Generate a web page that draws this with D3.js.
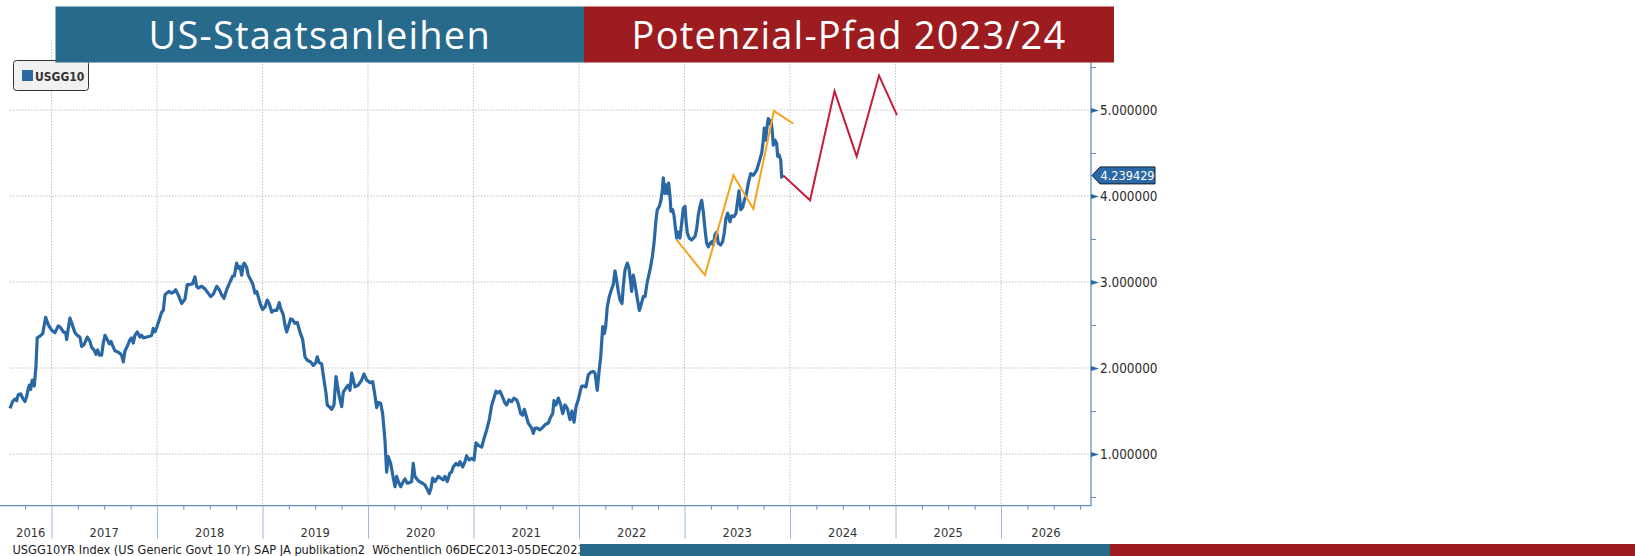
<!DOCTYPE html>
<html>
<head>
<meta charset="utf-8">
<script src="https://cdn.jsdelivr.net/npm/d3@7"></script>
<style>
    body { margin: 0; background: #fff; }
    #chart { width: 1635px; height: 556px; }
    .tick-font { font-family: "DejaVu Sans Condensed", "DejaVu Sans", sans-serif; font-stretch: condensed; }
</style>
</head>
<body>
<div id="chart"></div>
<script>
// titles / texts
const leftTitle = 'US-Staatsanleihen';
const rightTitle = 'Potenzial-Pfad 2023/24';
const legendLabel = 'USGG10';
const footnote = 'USGG10YR Index (US Generic Govt 10 Yr) SAP JA publikation2  Wöchentlich 06DEC2013-05DEC2023';
const lastValueLabel = '4.239429';
const lastValue = 4.239429;

// axis ticks
const yearLabels = [2016, 2017, 2018, 2019, 2020, 2021, 2022, 2023, 2024, 2025, 2026];
const yTicks = [1, 2, 3, 4, 5];
const yMinorTicks = [0.5, 1.5, 2.5, 3.5, 4.5, 5.5];

// USGG10 weekly (time as decimal year)
const usggTime = [
    2016.607, 2016.632, 2016.654, 2016.670, 2016.685, 2016.708, 2016.727, 2016.749, 2016.765, 2016.780,
    2016.790, 2016.803, 2016.818, 2016.837, 2016.853, 2016.865, 2016.891, 2016.917, 2016.945, 2016.970,
    2017.002, 2017.033, 2017.064, 2017.087, 2017.112, 2017.135, 2017.144, 2017.159, 2017.175, 2017.201,
    2017.223, 2017.245, 2017.270, 2017.286, 2017.308, 2017.339, 2017.365, 2017.381, 2017.403, 2017.422,
    2017.438, 2017.453, 2017.476, 2017.491, 2017.507, 2017.529, 2017.548, 2017.564, 2017.580, 2017.602,
    2017.624, 2017.649, 2017.665, 2017.681, 2017.697, 2017.718, 2017.744, 2017.760, 2017.775, 2017.791,
    2017.813, 2017.839, 2017.855, 2017.870, 2017.902, 2017.934, 2017.950, 2017.965, 2017.981, 2017.997,
    2018.022, 2018.045, 2018.060, 2018.076, 2018.092, 2018.117, 2018.139, 2018.155, 2018.177, 2018.202,
    2018.234, 2018.265, 2018.287, 2018.313, 2018.338, 2018.360, 2018.376, 2018.391, 2018.424, 2018.455,
    2018.486, 2018.509, 2018.534, 2018.566, 2018.591, 2018.613, 2018.635, 2018.661, 2018.692, 2018.718,
    2018.733, 2018.755, 2018.771, 2018.787, 2018.803, 2018.818, 2018.827, 2018.850, 2018.865, 2018.882,
    2018.907, 2018.929, 2018.945, 2018.960, 2018.983, 2019.002, 2019.024, 2019.045, 2019.064, 2019.087,
    2019.109, 2019.135, 2019.159, 2019.173, 2019.197, 2019.213, 2019.229, 2019.245, 2019.267, 2019.286,
    2019.308, 2019.330, 2019.355, 2019.381, 2019.403, 2019.425, 2019.457, 2019.482, 2019.504, 2019.519,
    2019.538, 2019.561, 2019.583, 2019.602, 2019.614, 2019.633, 2019.656, 2019.678, 2019.697, 2019.713,
    2019.728, 2019.751, 2019.766, 2019.798, 2019.813, 2019.829, 2019.846, 2019.861, 2019.877, 2019.908,
    2019.940, 2019.962, 2019.988, 2020.019, 2020.045, 2020.066, 2020.082, 2020.098, 2020.120, 2020.139,
    2020.161, 2020.177, 2020.192, 2020.215, 2020.240, 2020.256, 2020.272, 2020.287, 2020.310, 2020.335,
    2020.351, 2020.373, 2020.398, 2020.414, 2020.429, 2020.445, 2020.462, 2020.486, 2020.518, 2020.540,
    2020.562, 2020.581, 2020.597, 2020.613, 2020.635, 2020.666, 2020.689, 2020.714, 2020.730, 2020.752,
    2020.777, 2020.793, 2020.808, 2020.834, 2020.856, 2020.872, 2020.898, 2020.919, 2020.935, 2020.960,
    2020.983, 2021.005, 2021.024, 2021.045, 2021.078, 2021.100, 2021.125, 2021.150, 2021.173, 2021.194,
    2021.213, 2021.229, 2021.251, 2021.273, 2021.299, 2021.315, 2021.336, 2021.362, 2021.384, 2021.409,
    2021.425, 2021.447, 2021.466, 2021.482, 2021.498, 2021.519, 2021.552, 2021.567, 2021.583, 2021.605,
    2021.630, 2021.656, 2021.678, 2021.709, 2021.732, 2021.751, 2021.763, 2021.782, 2021.804, 2021.827,
    2021.846, 2021.867, 2021.889, 2021.915, 2021.934, 2021.953, 2021.972, 2021.993, 2022.014, 2022.026,
    2022.047, 2022.066, 2022.088, 2022.111, 2022.136, 2022.152, 2022.173, 2022.192, 2022.206, 2022.225,
    2022.240, 2022.253, 2022.268, 2022.287, 2022.310, 2022.325, 2022.341, 2022.357, 2022.373, 2022.389,
    2022.408, 2022.420, 2022.436, 2022.458, 2022.474, 2022.490, 2022.499, 2022.515, 2022.531, 2022.547,
    2022.572, 2022.588, 2022.609, 2022.626, 2022.647, 2022.673, 2022.695, 2022.711, 2022.730, 2022.742,
    2022.761, 2022.777, 2022.790, 2022.799, 2022.815, 2022.825, 2022.837, 2022.850, 2022.863, 2022.872,
    2022.888, 2022.900, 2022.913, 2022.926, 2022.941, 2022.957, 2022.973, 2022.989, 2023.005, 2023.014,
    2023.027, 2023.045, 2023.068, 2023.100, 2023.116, 2023.131, 2023.147, 2023.163, 2023.178, 2023.194,
    2023.210, 2023.226, 2023.242, 2023.258, 2023.273, 2023.289, 2023.305, 2023.320, 2023.343, 2023.362,
    2023.377, 2023.393, 2023.410, 2023.431, 2023.447, 2023.469, 2023.488, 2023.501, 2023.517, 2023.533,
    2023.552, 2023.567, 2023.583, 2023.605, 2023.627, 2023.652, 2023.684, 2023.709, 2023.732, 2023.747,
    2023.756, 2023.770, 2023.779, 2023.794, 2023.810, 2023.820, 2023.832, 2023.842, 2023.858, 2023.874,
    2023.883, 2023.896, 2023.912, 2023.921, 2023.936
];
const usggValues = [
    1.53, 1.61, 1.64, 1.62, 1.69, 1.70, 1.65, 1.61, 1.67, 1.76,
    1.80, 1.75, 1.86, 1.79, 2.02, 2.35, 2.37, 2.40, 2.59, 2.50,
    2.44, 2.41, 2.49, 2.47, 2.42, 2.41, 2.33, 2.46, 2.58, 2.49,
    2.41, 2.38, 2.36, 2.25, 2.27, 2.36, 2.31, 2.24, 2.21, 2.16,
    2.21, 2.15, 2.15, 2.29, 2.38, 2.33, 2.28, 2.31, 2.26, 2.20,
    2.19, 2.17, 2.15, 2.07, 2.20, 2.25, 2.33, 2.35, 2.29, 2.38,
    2.42, 2.36, 2.38, 2.35, 2.36, 2.37, 2.38, 2.46, 2.42, 2.47,
    2.56, 2.65, 2.67, 2.85, 2.87, 2.89, 2.87, 2.88, 2.91, 2.85,
    2.75, 2.80, 2.97, 2.97, 2.98, 3.06, 2.95, 2.93, 2.95, 2.92,
    2.87, 2.83, 2.86, 2.95, 2.91, 2.85, 2.81, 2.91, 3.00, 3.07,
    3.07, 3.22, 3.16, 3.18, 3.08, 3.20, 3.22, 3.17, 3.08, 3.04,
    2.98, 2.87, 2.89, 2.83, 2.73, 2.68, 2.71, 2.79, 2.75, 2.65,
    2.67, 2.67, 2.76, 2.69, 2.62, 2.50, 2.42, 2.48, 2.57, 2.56,
    2.52, 2.53, 2.42, 2.33, 2.13, 2.09, 2.07, 2.03, 2.06, 2.13,
    2.06, 2.05, 1.86, 1.71, 1.57, 1.55, 1.52, 1.57, 1.90, 1.78,
    1.67, 1.55, 1.72, 1.78, 1.80, 1.74, 1.94, 1.86, 1.78, 1.80,
    1.86, 1.93, 1.86, 1.83, 1.84, 1.68, 1.54, 1.60, 1.59, 1.47,
    1.16, 0.79, 0.97, 0.89, 0.72, 0.62, 0.74, 0.68, 0.62, 0.68,
    0.71, 0.66, 0.67, 0.68, 0.89, 0.74, 0.71, 0.68, 0.66, 0.64,
    0.59, 0.54, 0.60, 0.72, 0.68, 0.74, 0.72, 0.70, 0.74, 0.68,
    0.78, 0.79, 0.85, 0.89, 0.87, 0.91, 0.85, 0.91, 0.98, 0.93,
    0.95, 0.93, 1.13, 1.10, 1.08, 1.18, 1.28, 1.40, 1.57, 1.65,
    1.73, 1.71, 1.73, 1.67, 1.59, 1.57, 1.63, 1.61, 1.65, 1.63,
    1.58, 1.47, 1.45, 1.52, 1.45, 1.36, 1.30, 1.24, 1.30, 1.30,
    1.28, 1.31, 1.34, 1.36, 1.43, 1.47, 1.62, 1.57, 1.65, 1.57,
    1.47, 1.57, 1.53, 1.40, 1.50, 1.37, 1.55, 1.63, 1.74, 1.79,
    1.79, 1.78, 1.92, 1.95, 1.96, 1.94, 1.74, 1.98, 2.13, 2.48,
    2.40, 2.48, 2.71, 2.83, 2.92, 2.97, 3.13, 3.02, 2.89, 2.79,
    2.75, 2.95, 3.14, 3.22, 3.16, 3.00, 2.89, 3.08, 2.98, 2.85,
    2.67, 2.73, 2.83, 2.83, 3.00, 3.14, 3.29, 3.45, 3.72, 3.84,
    3.88, 3.95, 4.07, 4.21, 4.03, 4.13, 4.03, 4.15, 3.99, 3.82,
    3.84, 3.78, 3.64, 3.51, 3.58, 3.51, 3.68, 3.86, 3.88, 3.72,
    3.57, 3.51, 3.49, 3.53, 3.62, 3.78, 3.88, 3.95, 3.82, 3.62,
    3.45, 3.41, 3.45, 3.47, 3.43, 3.55, 3.58, 3.45, 3.43, 3.47,
    3.57, 3.74, 3.80, 3.70, 3.77, 3.76, 3.80, 3.92, 4.06, 3.84,
    3.87, 3.95, 4.00, 4.15, 4.26, 4.24, 4.30, 4.40, 4.50, 4.65,
    4.79, 4.65, 4.77, 4.90, 4.84, 4.88, 4.75, 4.59, 4.65, 4.61,
    4.46, 4.48, 4.42, 4.22, 4.239429
];

// drawn paths (orange zig-zag 2022/23, red potential path 2023/24)
const orangeTime = [2022.926, 2023.194, 2023.463, 2023.652, 2023.848, 2024.031];
const orangeValues = [3.49, 3.08, 4.24, 3.85, 4.99, 4.84];
const redTime = [2023.936, 2024.190, 2024.422, 2024.632, 2024.844, 2025.014];
const redValues = [4.24, 3.95, 5.22, 4.46, 5.40, 4.94];

class YieldChart {
    constructor({
        wrapper,
        padding: {top = 58.4, right = 544, bottom = 50.4, left = 10} = {},
        xDomain = [2016.607, 2026.853],
        yDomain = [0.4, 5.6]
    }) {
        this.wrapper = wrapper;
        this.padding = {top, right, bottom, left};
        this.xDomain = xDomain;
        this.yDomain = yDomain;
        this.initChart();
    }

    initChart() {
        this.W = 1635;
        this.H = 556;
        this.svg = d3.select(this.wrapper)
            .append('svg')
            .attr('width', this.W)
            .attr('height', this.H);

        this.left = this.padding.left;
        this.right = this.W - this.padding.right;   // 1091
        this.top = this.padding.top;
        this.bottom = this.H - this.padding.bottom; // 505.6

        this.xScale = d3.scaleLinear().domain(this.xDomain).range([this.left, this.right]);
        this.yScale = d3.scaleLinear().domain(this.yDomain).range([this.bottom, this.top]);

        this.grid = this.svg.append('g').attr('class', 'grid');
        this.axes = this.svg.append('g').attr('class', 'axes');
        this.lines = this.svg.append('g').attr('class', 'lines');
        this.deco = this.svg.append('g').attr('class', 'deco');

        this.draw();
    }

    getGrid() {
        const x = this.xScale, y = this.yScale;
        const years = yearLabels.slice(1);

        this.grid.selectAll('line.vgrid')
            .data(years)
            .enter()
            .append('line')
            .attr('class', 'vgrid')
            .attr('x1', d => x(d)).attr('x2', d => x(d))
            .attr('y1', 40).attr('y2', this.bottom)
            .attr('stroke', '#c4c4c4')
            .attr('stroke-dasharray', '1.5,1.5');

        this.grid.selectAll('line.hgrid')
            .data(yTicks)
            .enter()
            .append('line')
            .attr('class', 'hgrid')
            .attr('x1', this.left).attr('x2', this.right)
            .attr('y1', d => y(d)).attr('y2', d => y(d))
            .attr('stroke', '#c4c4c4')
            .attr('stroke-dasharray', '1.5,1.5');
    }

    getAxis() {
        const x = this.xScale, y = this.yScale;
        const axisColor = '#5e8fc6';
        const years = yearLabels.slice(1);
        const quarters = [];
        yearLabels.forEach(yr => [0.25, 0.5, 0.75].forEach(q => {
            if (yr + q > this.xDomain[0] && yr + q < this.xDomain[1]) quarters.push(yr + q);
        }));

        // x axis: quarter ticks + long year separators
        const xMinor = this.axes.append('g')
            .attr('transform', `translate(0, ${this.bottom})`)
            .call(d3.axisBottom(x).tickValues(quarters).tickSize(4).tickSizeOuter(0).tickFormat(''));
        xMinor.select('.domain').remove();
        xMinor.selectAll('line').attr('stroke', axisColor);

        const xMajor = this.axes.append('g')
            .attr('transform', `translate(0, ${this.bottom})`)
            .call(d3.axisBottom(x).tickValues(years).tickSize(33).tickSizeOuter(0).tickFormat(''));
        xMajor.select('.domain').remove();
        xMajor.selectAll('line').attr('stroke', '#9db8da');

        this.axes.append('line')
            .attr('x1', 0).attr('x2', this.right + 0.5)
            .attr('y1', this.bottom).attr('y2', this.bottom)
            .attr('stroke', axisColor).attr('stroke-width', 1.3);

        // year labels centred in each year band
        this.axes.selectAll('text.year')
            .data(yearLabels)
            .enter()
            .append('text')
            .attr('class', 'year tick-font')
            .attr('x', d => (x(Math.max(d, this.xDomain[0])) + x(Math.min(d + 1, this.xDomain[1]))) / 2)
            .attr('y', 537)
            .attr('text-anchor', 'middle')
            .attr('font-size', 12.8)
            .attr('fill', '#333')
            .text(d => d);

        // y axis on the right
        this.axes.append('line')
            .attr('x1', this.right).attr('x2', this.right)
            .attr('y1', 40).attr('y2', this.bottom)
            .attr('stroke', axisColor).attr('stroke-width', 1.3);

        const yMinor = this.axes.append('g')
            .attr('transform', `translate(${this.right}, 0)`)
            .call(d3.axisRight(y).tickValues(yMinorTicks).tickSize(5).tickFormat(''));
        yMinor.select('.domain').remove();
        yMinor.selectAll('line').attr('stroke', axisColor);

        const yAxis = this.axes.append('g')
            .attr('transform', `translate(${this.right}, 0)`)
            .call(d3.axisRight(y).tickValues(yTicks).tickSize(0).tickPadding(9).tickFormat(d3.format('.6f')));
        yAxis.select('.domain').remove();
        yAxis.selectAll('.tick')
            .append('path')
            .attr('d', 'M0,-2.5L8,0L0,2.5Z')
            .attr('fill', '#2b68a6');
        yAxis.selectAll('text')
            .attr('class', 'tick-font')
            .attr('font-size', 13.4)
            .attr('fill', '#2a2a2a');
    }

    getMainChart() {
        const x = this.xScale, y = this.yScale;
        const line = d3.line().x(d => x(d[0])).y(d => y(d[1]));

        this.lines.append('path')
            .datum(d3.zip(usggTime, usggValues))
            .attr('d', line)
            .attr('fill', 'none')
            .attr('stroke', '#2a67a5')
            .attr('stroke-width', 3.2)
            .attr('stroke-linejoin', 'round');

        this.lines.append('path')
            .datum(d3.zip(orangeTime, orangeValues))
            .attr('d', line)
            .attr('fill', 'none')
            .attr('stroke', '#f8a21c')
            .attr('stroke-width', 2);

        this.lines.append('path')
            .datum(d3.zip(redTime, redValues))
            .attr('d', line)
            .attr('fill', 'none')
            .attr('stroke', '#c41c3a')
            .attr('stroke-width', 2);

        // last value badge
        const yv = y(lastValue);
        const bx = this.right + 1;
        const badge = this.deco.append('g');
        badge.append('path')
            .attr('d', `M${bx},${yv}L${bx + 8},${yv - 8.5}L${bx + 63},${yv - 8.5}L${bx + 63},${yv + 8.5}L${bx + 8},${yv + 8.5}Z`)
            .attr('fill', '#2b68a6')
            .attr('stroke', '#14202c')
            .attr('stroke-width', 1);
        badge.append('text')
            .attr('class', 'tick-font')
            .attr('x', bx + 8.5)
            .attr('y', yv)
            .attr('dy', '0.35em')
            .attr('font-size', 12.6)
            .attr('fill', '#fff')
            .text(lastValueLabel);
    }

    getDecoration() {
        // legend
        const lg = this.deco.append('g');
        lg.append('rect')
            .attr('x', 13.5).attr('y', 60.5)
            .attr('width', 75).attr('height', 30)
            .attr('rx', 3)
            .attr('fill', '#f1f1f1')
            .attr('stroke', '#333');
        lg.append('rect')
            .attr('x', 22).attr('y', 70)
            .attr('width', 11).attr('height', 11)
            .attr('fill', '#2a67a5');
        lg.append('text')
            .attr('class', 'tick-font')
            .attr('x', 35).attr('y', 81)
            .attr('font-size', 12)
            .attr('font-weight', 600)
            .attr('fill', '#333')
            .text(legendLabel);

        // title bars
        const bars = [
            {x0: 55.5, x1: 584, fill: '#286a8c', text: leftTitle},
            {x0: 584, x1: 1114, fill: '#9d1c20', text: rightTitle}
        ];
        const tg = this.deco.selectAll('g.title')
            .data(bars)
            .enter()
            .append('g')
            .attr('class', 'title');
        tg.append('rect')
            .attr('x', d => d.x0).attr('y', 6.5)
            .attr('width', d => d.x1 - d.x0).attr('height', 56)
            .attr('fill', d => d.fill);
        tg.append('text')
            .attr('x', d => (d.x0 + d.x1) / 2)
            .attr('y', 49)
            .attr('text-anchor', 'middle')
            .attr('font-family', '"Open Sans", "Noto Sans", sans-serif')
            .attr('font-size', 38)
            .attr('letter-spacing', 1.2)
            .attr('fill', '#fff')
            .text(d => d.text);

        // footnote + bottom bands
        this.deco.append('text')
            .attr('class', 'tick-font')
            .attr('x', 12.5).attr('y', 554)
            .attr('font-size', 12.7)
            .style('white-space', 'pre')
            .attr('fill', '#1a1a1a')
            .text(footnote);
        this.deco.append('rect')
            .attr('x', 580).attr('y', 544)
            .attr('width', 530).attr('height', 12)
            .attr('fill', '#286a8c');
        this.deco.append('rect')
            .attr('x', 1110).attr('y', 544)
            .attr('width', 525).attr('height', 12)
            .attr('fill', '#9d1c20');
    }

    draw() {
        this.getGrid();
        this.getAxis();
        this.getMainChart();
        this.getDecoration();
    }
}

new YieldChart({wrapper: document.getElementById('chart')});
</script>
</body>
</html>
